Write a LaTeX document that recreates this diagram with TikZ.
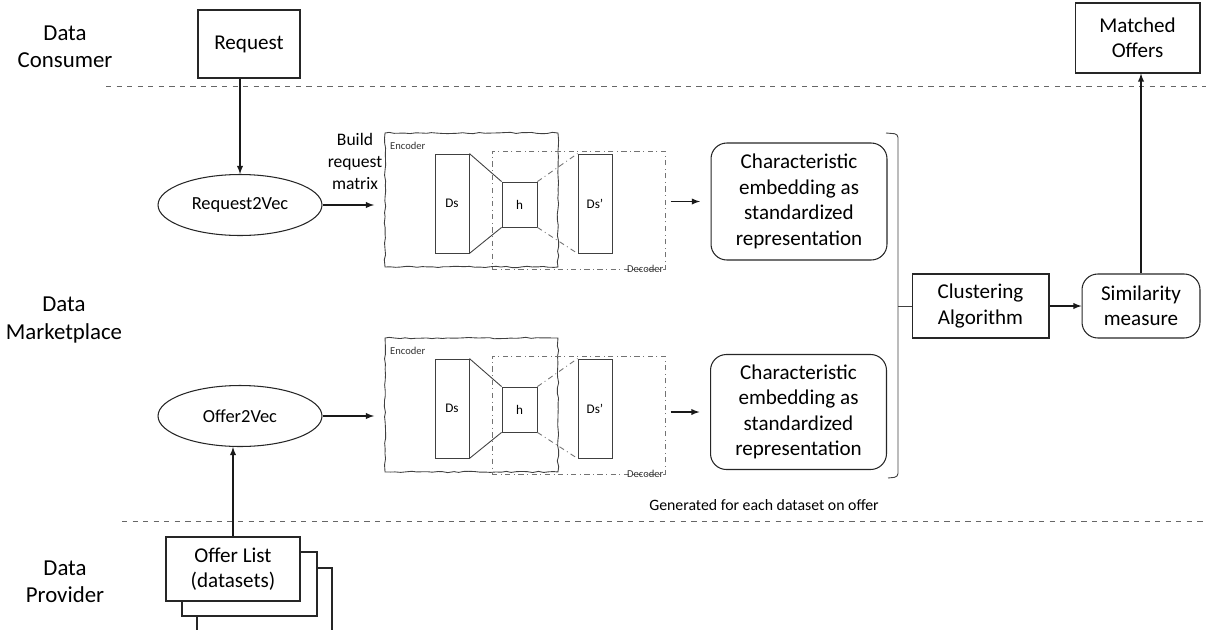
\documentclass[tikz,border=0pt]{standalone}
\usepackage{fontspec}
\setmainfont{Carlito}
\usetikzlibrary{shapes.geometric,decorations.pathmorphing}

\tikzset{
  box/.style={draw=black!85,line width=0.6pt,align=center,inner sep=2pt,
    font=\fontsize{12}{14.5}\selectfont},
  rbox/.style={box,rounded corners=9pt},
  vec/.style={draw=black!85,ellipse,line width=0.6pt,minimum width=3.28cm,
    minimum height=1.22cm,font=\fontsize{10.5}{12}\selectfont},
  lane/.style={align=center,font=\fontsize{13}{15.5}\selectfont},
  sep/.style={draw=black!60,dashed,line width=0.5pt},
  layer/.style={draw=black!75,line width=0.5pt,font=\fontsize{7.5}{9}\selectfont},
  encframe/.style={draw=black!75,line width=0.5pt,decorate,
    decoration={random steps,segment length=3pt,amplitude=0.4pt}},
  decframe/.style={draw=black!55,line width=0.5pt,dash dot},
  tiny/.style={font=\fontsize{6}{7}\selectfont,text=black!80},
  flow/.style={->,>=latex,line width=0.6pt,draw=black!90}
}

\begin{document}
\begin{tikzpicture}[x=0.02cm,y=-0.02cm]
  \pgfmathsetseed{7}
  \useasboundingbox (0,0) rectangle (1206,629);

  % lanes
  \node[lane] (consumer) at (65,47) {Data\\Consumer};
  \node[lane] (market) at (64,320) {Data\\Marketplace};
  \node[lane] (provider) at (65,582) {Data\\Provider};
  \draw[sep] (106,86) -- (1206,86);
  \draw[sep] (122,521) -- (1206,521);

  \node[box,minimum width=2.04cm,minimum height=1.36cm] (req) at (249,44) {Request};
  \node[box,minimum width=2.5cm,minimum height=1.4cm] (matched) at (1137.5,38) {Matched\\Offers};

  \node[vec] (r2v) at (240,205) {Request2Vec};
  \node[vec] (o2v) at (240,416) {Offer2Vec};
  \node[align=center,font=\fontsize{10}{12.5}\selectfont] (build) at (355,161) {Build\\request\\matrix};

  % offer list stack
  \draw[line width=0.6pt,draw=black!85,fill=white] (197,568) rectangle (332,650);
  \draw[line width=0.6pt,draw=black!85,fill=white] (182,552) rectangle (317,616);
  \node[box,fill=white,minimum width=2.68cm,minimum height=1.28cm] (olist) at (233,569) {Offer List\\(datasets)};

  % autoencoders
  \foreach \dy/\nm in {0/r,205/o}{
    \begin{scope}[shift={(0,\dy)}]
      \node[encframe,minimum width=3.46cm,minimum height=2.68cm] (enc-\nm) at (471.5,200) {};
      \node[decframe,minimum width=3.46cm,minimum height=2.36cm] (dec-\nm) at (578.5,210) {};
      \node[layer,minimum width=0.68cm,minimum height=1.98cm] (ds-\nm) at (452,203.5) {Ds};
      \node[layer,minimum width=0.7cm,minimum height=0.9cm] (h-\nm) at (519.5,204.5) {h};
      \node[layer,minimum width=0.68cm,minimum height=1.98cm] (dsp-\nm) at (595,203.5) {Ds'};
      \draw[black!75,line width=0.5pt] (ds-\nm.north east) -- (h-\nm.north west)
                                       (ds-\nm.south east) -- (h-\nm.south west);
      \draw[decframe] (h-\nm.north east) -- (dsp-\nm.north west)
                      (h-\nm.south east) -- (dsp-\nm.south west);
      \node[tiny,anchor=north west,inner sep=1pt] (enclab-\nm) at (enc-\nm.north west) [xshift=2pt,yshift=-4pt] {Encoder};
      \node[tiny,anchor=east,inner sep=1pt] (declab-\nm) at (dec-\nm.south east) [yshift=0.5pt] {Decoder};
    \end{scope}
  }

  \node[rbox,minimum width=3.52cm,minimum height=2.34cm] (ch-r) at (799,201.5)
    {Characteristic\\embedding as\\standardized\\representation};
  \node[rbox,minimum width=3.52cm,minimum height=2.3cm] (ch-o) at (798.5,412)
    {Characteristic\\embedding as\\standardized\\representation};
  \node[font=\fontsize{9}{11}\selectfont] (gen) at (764,505) {Generated for each dataset on offer};

  \node[box,minimum width=2.74cm,minimum height=1.28cm] (clu) at (980.5,306) {Clustering\\Algorithm};
  \node[rbox,minimum width=2.36cm,minimum height=1.28cm] (sim) at (1141,306) {Similarity\\measure};

  % brace
  \draw[black!75,line width=0.5pt,rounded corners=2pt] (886,133) -- (898,134) -- (898,477) -- (888,478);
  \draw[black!75,line width=0.5pt] (898,306) -- (clu.west);

  % arrows
  \draw[flow] (r2v.north |- req.south) -- (r2v.north);
  \draw[flow] (olist.north) -- (olist.north |- o2v.south);
  \draw[flow,shorten >=6pt] (r2v.east) -- (r2v.east -| enc-r.west);
  \draw[flow,shorten >=6pt] (o2v.east) -- (o2v.east -| enc-o.west);
  \draw[flow,shorten <=3pt,shorten >=6pt] (ch-r.west -| dec-r.east) -- (ch-r.west);
  \draw[flow,shorten <=3pt,shorten >=6pt] (ch-o.west -| dec-o.east) -- (ch-o.west);
  \draw[flow] (clu.east) -- (sim.west);
  \draw[flow] (sim.north) -- (sim.north |- matched.south);
\end{tikzpicture}
\end{document}
